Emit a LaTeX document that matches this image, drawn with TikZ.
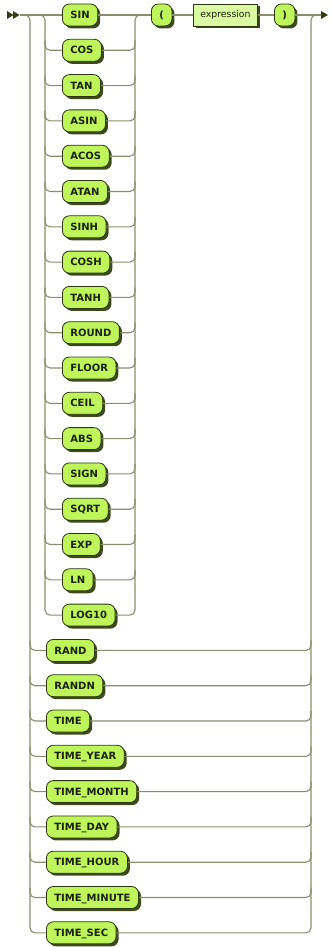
\documentclass[tikz,border=0pt]{standalone}
\usepackage{fontspec}
\newfontfamily\dvfont{DejaVu Sans}
\usetikzlibrary{shadows}
\definecolor{linec}{HTML}{8A8E6E}
\definecolor{termc}{HTML}{BEF55A}
\definecolor{ntermc}{HTML}{DAFBA2}
\definecolor{borderc}{HTML}{2C3510}
\definecolor{shadowc}{HTML}{3E4A1C}
\definecolor{textc}{HTML}{1A2208}
\definecolor{arrowc}{HTML}{2F3D10}
\begin{document}
\begin{tikzpicture}[x=1pt,y=-1pt,
  rail/.style={draw=linec, line width=1.1pt, rounded corners=5pt},
  term/.style={draw=borderc, fill=termc, line width=0.8pt, rounded corners=7pt,
    font=\dvfont\bfseries\fontsize{10}{12}\selectfont, text=textc,
    inner xsep=8pt, inner ysep=0pt, minimum height=22pt, text height=7.3pt, text depth=0pt,
    anchor=west, drop shadow={shadow xshift=2.5pt, shadow yshift=-2.5pt, fill=shadowc, opacity=1}},
  nterm/.style={draw=borderc, fill=ntermc, line width=0.8pt,
    font=\dvfont\fontsize{9.3}{11}\selectfont, text=textc,
    inner xsep=7pt, inner ysep=0pt, minimum height=22pt, text height=6.8pt, text depth=1.8pt,
    anchor=west, drop shadow={shadow xshift=2.5pt, shadow yshift=-2.5pt, fill=shadowc, opacity=1}},
  tip/.style={fill=arrowc, draw=none}]
\useasboundingbox (0,0) rectangle (330,947);
% inner choice rows
\foreach \t [count=\i from 0] in {SIN,COS,TAN,ASIN,ACOS,ATAN,SINH,COSH,TANH,ROUND,FLOOR,CEIL,ABS,SIGN,SQRT,EXP,LN,LOG10}{
  \node[term] (r\i) at (62,{15+35.3*\i}) {\t};
}
% outer choice rows
\foreach \t [count=\i from 0] in {RAND,RANDN,TIME,TIME\_YEAR,TIME\_MONTH,TIME\_DAY,TIME\_HOUR,TIME\_MINUTE,TIME\_SEC}{
  \node[term] (s\i) at (46,{15+35.3*(18+\i)}) {\t};
}
\node[term] (lp) at (151,15) {(};
\node[nterm] (expr) at (193,15) {expression};
\node[term] (rp) at (274,15) {)};
% start / end
\coordinate (start) at (20,15);
\coordinate (finish) at (321,15);
\fill[tip] (7,11) -- (13.5,15) -- (7,19) -- cycle;
\fill[tip] (13,11) -- (19.5,15) -- (13,19) -- cycle;
\fill[tip] (finish) ++(0,-4) -- ++(7,4) -- ++(-7,4) -- cycle;
% main line
\draw[rail] (start) -- (r0.west);
\draw[rail] (r0.east) -- (lp.west);
\draw[rail] (lp.east) -- (expr.west);
\draw[rail] (expr.east) -- (rp.west);
\draw[rail] (rp.east) -- (finish);
% inner branch
\draw[rail] (start) -- (45,15) -- (45,{15+35.3*17}) -- (r17.west);
\draw[rail] (r17.east) -- (135,{15+35.3*17}) -- (135,15) -- (lp.west);
\foreach \i in {1,...,16}{
  \draw[rail] (45,{15+35.3*\i-10}) -- (45,{15+35.3*\i}) -- (r\i.west);
  \draw[rail] (r\i.east) -- (135,{15+35.3*\i}) -- (135,{15+35.3*\i-10});
}
% outer branch
\draw[rail] (start) -- (30,15) -- (30,{15+35.3*26}) -- (s8.west);
\draw[rail] (s8.east) -- (311,{15+35.3*26}) -- (311,15) -- (finish);
\foreach \i in {0,...,7}{
  \draw[rail] (30,{15+35.3*(18+\i)-10}) -- (30,{15+35.3*(18+\i)}) -- (s\i.west);
  \draw[rail] (s\i.east) -- (311,{15+35.3*(18+\i)}) -- (311,{15+35.3*(18+\i)-10});
}
\end{tikzpicture}
\end{document}
